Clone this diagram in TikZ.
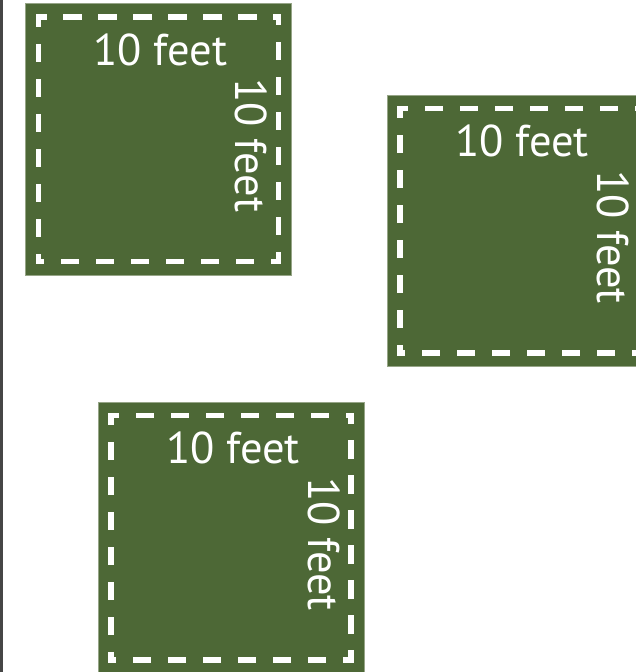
\documentclass[tikz,border=0pt]{standalone}
\usepackage{fontspec}
\setmainfont{PT Sans}
\definecolor{grass}{RGB}{77,104,54}
\definecolor{rim}{RGB}{150,165,135}
\definecolor{edge}{RGB}{70,70,70}
\begin{document}
\begin{tikzpicture}[x=1pt,y=-1pt,
  plot/.style={fill=grass,draw=rim,line width=1pt},
  seam/.style={draw=white,line width=5.5pt,line cap=rect,dash pattern=on 12.8pt off 22.2pt,dash phase=7.55pt},
  lbl/.style={text=white,font=\fontsize{44.5}{44.5}\selectfont,inner sep=0pt,anchor=base}]
\useasboundingbox (0,0) rectangle (635,672);
\coordinate (lt) at (1.25,0);
\coordinate (lb) at (1.25,672);
\draw[line width=2.5pt,draw=edge] (lt) -- (lb);
\foreach \n/\x/\y in {a/25.5/3.5, b/387/95, c/98/402}{
  \path[plot] (\x,\y) rectangle ++(266,271.5);
  \coordinate (tl\n) at (\x+13,\y+13.5);
  \coordinate (tr\n) at (\x+253,\y+13.5);
  \coordinate (br\n) at (\x+253,\y+258);
  \coordinate (bl\n) at (\x+13,\y+258);
  \draw[seam] (tl\n) -- (tr\n);
  \draw[seam] (tr\n) -- (br\n);
  \draw[seam] (br\n) -- (bl\n);
  \draw[seam] (bl\n) -- (tl\n);
  \node[lbl] (h\n) at (\x+135,\y+61.5) {10 feet};
  \node[lbl,rotate=-90] (v\n) at (\x+210,\y+142) {10 feet};
}
\end{tikzpicture}
\end{document}
